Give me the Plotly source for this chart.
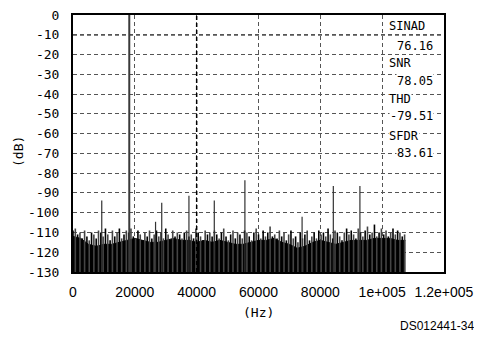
import numpy as np
import plotly.graph_objects as go

# ---------------- data ----------------
x_tick_vals = [0, 20000, 40000, 60000, 80000, 100000, 120000]
x_tick_text = ["0", "20000", "40000", "60000", "80000", "1e+005", "1.2e+005"]
y_tick_vals = [0, -10, -20, -30, -40, -50, -60, -70, -80, -90, -100, -110, -120, -130]
y_tick_text = ["0", "-10", "-20", "-30", "-40", "-50", "-60", "-70", "-80", "-90",
               "-100", "-110", "-120", "-130"]

# fundamental and spurs (Hz, dB)
fund_freq = 18200
fund_level = 0.0
spur_freqs = [9300, 26700, 28700, 37500, 45700, 55600, 74100, 84200, 92800]
spur_levels = [-93.8, -104.6, -95.0, -91.4, -93.8, -83.6, -102.0, -86.5, -86.5]

# noise floor: solid part (every 2.5 kHz) and spiky tops (every 0.75 kHz)
floor_step_hz = 2500
floor_levels = [-112, -113, -116, -117, -116, -116, -115, -114, -113, -114, -115,
                -115, -114, -113, -114, -114, -115, -114, -115, -114, -115, -116,
                -116, -115, -114, -114, -113, -115, -116, -118, -117, -115, -114,
                -115, -116, -115, -114, -114, -114, -113, -113, -113, -114, -114]
top_step_hz = 750
noise_tops = [
    -109, -108, -111, -110, -113, -109, -112, -114, -110, -111, -113, -109,
    -110, -112, -108, -111, -114, -109, -112, -110, -108, -113, -111, -109,
    -110, -108, -112, -113, -109, -111, -114, -110, -112, -109, -113, -111,
    -109, -112, -110, -113, -108, -111, -114, -109, -112, -110, -111, -113,
    -110, -109, -112, -111, -113, -108, -110, -112, -114, -109, -111, -110,
    -112, -109, -111, -113, -110, -108, -112, -114, -111, -109, -113, -110,
    -111, -113, -109, -110, -112, -114, -110, -108, -111, -113, -109, -112,
    -110, -107, -112, -111, -113, -109, -112, -110, -114, -111, -109, -113,
    -112, -115, -110, -113, -111, -109, -114, -112, -110, -113, -109, -111,
    -110, -112, -108, -111, -113, -109, -110, -112, -114, -110, -108, -111,
    -109, -111, -113, -108, -110, -112, -109, -107, -111, -110, -106, -112,
    -110, -108, -111, -109, -112, -110, -108, -111, -109, -110, -112, -111,
]

Y_MIN, Y_MAX = -130, 0
X_MIN, X_MAX = 0, 120000

# ---------------- figure ----------------
fig = go.Figure()

floor_freqs = [i * floor_step_hz for i in range(len(floor_levels))]
fig.add_trace(go.Scatter(x=floor_freqs, y=[Y_MIN] * len(floor_freqs), mode="lines",
                         line=dict(width=0, color="black"), hoverinfo="skip",
                         showlegend=False))
fig.add_trace(go.Scatter(x=floor_freqs, y=floor_levels, mode="lines",
                         line=dict(width=1, color="black"), fill="tonexty",
                         fillcolor="black", showlegend=False))

top_freqs = [i * top_step_hz for i in range(len(noise_tops))]
for parity, col in [(0, "#000000"), (1, "#444444")]:
    xs, ys = [], []
    for i, (f, v) in enumerate(zip(top_freqs, noise_tops)):
        if i % 2 != parity:
            continue
        xs += [f, f, None]
        ys += [Y_MIN, v, None]
    fig.add_trace(go.Scatter(x=xs, y=ys, mode="lines",
                             line=dict(width=1.6, color=col), showlegend=False))

sx, sy = [], []
for f, v in zip(spur_freqs, spur_levels):
    sx += [f, f, None]
    sy += [Y_MIN, v, None]
fig.add_trace(go.Scatter(x=sx, y=sy, mode="lines",
                         line=dict(width=1.2, color="#333333"), showlegend=False))
fig.add_trace(go.Scatter(x=[fund_freq, fund_freq], y=[Y_MIN, fund_level], mode="lines",
                         line=dict(width=2, color="#3a3a3a"), showlegend=False))

mono = "DejaVu Sans Mono"

fig.update_xaxes(range=[X_MIN, X_MAX], tickvals=x_tick_vals, ticktext=x_tick_text,
                 showgrid=True, gridcolor="#555555", griddash="4px,3px", gridwidth=1,
                 showline=True, linecolor="black", linewidth=2, mirror=True,
                 zeroline=False, ticks="", ticklabelstandoff=6, automargin=False,
                 ticklabeloverflow="allow",
                 tickfont=dict(family="Liberation Sans", size=14, color="black"))
fig.update_yaxes(range=[Y_MIN, Y_MAX], tickvals=y_tick_vals, ticktext=y_tick_text,
                 showgrid=True, gridcolor="#555555", griddash="4px,3px", gridwidth=1,
                 showline=True, linecolor="black", linewidth=2, mirror=True,
                 zeroline=False, ticks="", ticklabelstandoff=9, automargin=False,
                 ticklabeloverflow="allow",
                 tickfont=dict(family=mono, size=13, color="black"))

# bolder reference grid lines
fig.add_shape(type="line", xref="x", yref="y", x0=X_MIN, x1=X_MAX, y0=-10, y1=-10,
              line=dict(color="black", width=1.5, dash="4px,3px"), layer="below")
fig.add_shape(type="line", xref="x", yref="y", x0=40000, x1=40000, y0=Y_MIN, y1=Y_MAX,
              line=dict(color="black", width=1.5, dash="4px,3px"), layer="above")

# plot-area geometry in page pixels (page body has an 8 px margin)
PAGE = 8
PL, PR, PT, PB = 73, 444, 15, 272


def px(xp):
    return (xp - PL) / (PR - PL)


def py(yp):
    return (PB - yp) / (PB - PT)


# measurement results
labels = ["SINAD", "SNR", "THD", "SFDR"]
values = ["76.16", "78.05", "-79.51", "83.61"]
label_y = [26, 62.5, 99, 136]
value_y = [46, 80.5, 116, 152.5]
for lab, val, ly, vy in zip(labels, values, label_y, value_y):
    fig.add_annotation(text=lab, xref="paper", yref="paper", x=px(388), y=py(ly),
                       xanchor="left", yanchor="middle", showarrow=False,
                       bgcolor="white", borderpad=0,
                       font=dict(family=mono, size=12, color="black"))
    fig.add_annotation(text=val, xref="paper", yref="paper", x=px(434), y=py(vy),
                       xanchor="right", yanchor="middle", showarrow=False,
                       bgcolor="white", borderpad=0,
                       font=dict(family=mono, size=12, color="black"))

# axis titles and figure code
fig.add_annotation(text="(Hz)", xref="paper", yref="paper", x=px(258), y=py(313),
                   xanchor="center", yanchor="middle", showarrow=False,
                   font=dict(family=mono, size=13, color="black"))
fig.add_annotation(text="(dB)", xref="paper", yref="paper", x=px(18), y=py(152),
                   xanchor="center", yanchor="middle", showarrow=False, textangle=-90,
                   font=dict(family=mono, size=13, color="black"))
fig.add_annotation(text="DS012441-34", xref="paper", yref="paper", x=px(476), y=py(326),
                   xanchor="right", yanchor="middle", showarrow=False,
                   font=dict(family="Liberation Sans", size=12, color="black"))

W, H = 482 - PAGE, 341 - PAGE
fig.update_layout(width=W, height=H,
                  margin=dict(l=PL - PAGE, r=W - (PR - PAGE), t=PT - PAGE, b=H - (PB - PAGE)),
                  plot_bgcolor="white", paper_bgcolor="white", showlegend=False)

fig.write_html("out.html")
